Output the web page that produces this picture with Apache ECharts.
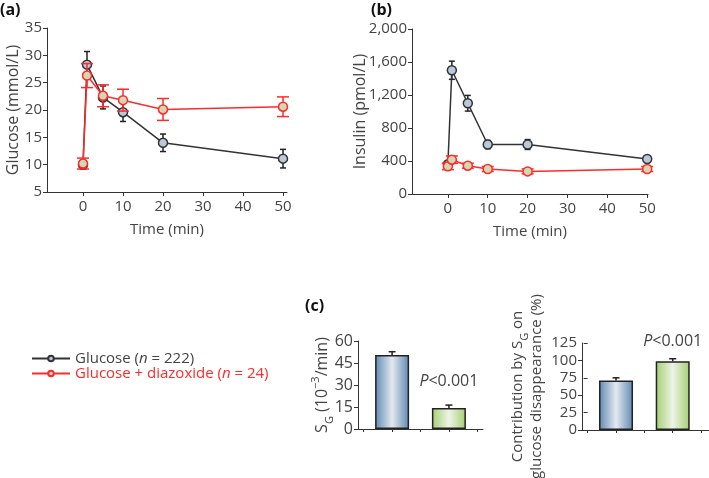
<!DOCTYPE html>
<html><head><meta charset="utf-8">
<script src="https://cdn.jsdelivr.net/npm/echarts@6/dist/echarts.min.js"></script>
<style>html,body{margin:0;padding:0;background:#fff}#c{width:709px;height:478px}</style>
</head><body><div id="c"></div>
<script>
// ---- data ----
const times = [0, 1, 5, 10, 20, 50];
const timeTicks = [0, 10, 20, 30, 40, 50];
const seriesNames = ['Glucose (n = 222)', 'Glucose + diazoxide (n = 24)'];
const glucoseCtrl = [10.0, 28.3, 22.3, 19.6, 14.0, 11.1];
const glucoseCtrlErr = [0.8, 2.4, 2.1, 1.7, 1.6, 1.7];
const glucoseDiaz = [10.2, 26.3, 22.6, 21.8, 20.1, 20.6];
const glucoseDiazErr = [1.0, 2.2, 2.0, 2.0, 2.0, 1.8];
const insulinCtrl = [360, 1500, 1100, 600, 600, 424];
const insulinCtrlErr = [30, 110, 95, 50, 60, 25];
const insulinDiaz = [335, 416, 343, 303, 274, 303];
const insulinDiazErr = [40, 45, 30, 30, 30, 30];
const barPositions = [1, 3];
const barTicks = [0, 1, 2, 3, 4];
const sgValues = [50.4, 14.4];
const sgErr = [2.3, 1.9];
const sgTicks = [0, 15, 30, 45, 60];
const contribValues = [71, 98.6];
const contribErr = [4, 3.8];
const contribTicks = [0, 25, 50, 75, 100, 125];

// ---- styles ----
const FONT = 'Open Sans';
const TXT = '#444';
const AX = '#333';
const RED = '#ff2a2a';
const barGrad = [
  {type:'linear',x:0,y:0,x2:1,y2:0,colorStops:[{offset:0,color:'#5f89b3'},{offset:0.5,color:'#e3e9ee'},{offset:1,color:'#5f89b3'}]},
  {type:'linear',x:0,y:0,x2:1,y2:0,colorStops:[{offset:0,color:'#a3cf72'},{offset:0.5,color:'#eef3e7'},{offset:1,color:'#a3cf72'}]}
];

const chart = echarts.init(document.getElementById('c'), null, {renderer:'canvas'});

function errRender(capW, color, upOnly) {
  return function (params, api) {
    const x = api.value(0), v = api.value(1), e = api.value(2);
    const lo = api.coord([x, upOnly ? v : v - e]);
    const hi = api.coord([x, v + e]);
    const st = {stroke: color, lineWidth: 1.5};
    const ch = [
      {type:'line', shape:{x1:lo[0],y1:lo[1],x2:hi[0],y2:hi[1]}, style:st},
      {type:'line', shape:{x1:hi[0]-capW/2,y1:hi[1],x2:hi[0]+capW/2,y2:hi[1]}, style:st}
    ];
    if (!upOnly) ch.push({type:'line', shape:{x1:lo[0]-capW/2,y1:lo[1],x2:lo[0]+capW/2,y2:lo[1]}, style:st});
    return {type:'group', children:ch};
  };
}
const zip3 = (xs, v, e) => xs.map((x, i) => [x, v[i], e[i]]);
const zip2 = (xs, v) => xs.map((x, i) => [x, v[i]]);

const axisLineC = {lineStyle:{color:AX, width:1}};
const tickC = {length:4, lineStyle:{color:AX, width:1}};
const lblC = {color:TXT, fontFamily:FONT, fontSize:15};

function timeAxis(gi, max) {
  return {type:'value', gridIndex:gi, min:-9, max:max,
    axisLine:{show:true, onZero:false, ...axisLineC},
    axisTick:{show:true, ...tickC, customValues:timeTicks},
    axisLabel:{...lblC, margin:7, customValues:timeTicks},
    splitLine:{show:false},
    name:'Time (min)', nameLocation:'middle', nameGap:30, nameMoveOverlap:false,
    nameTextStyle:{color:TXT, fontFamily:FONT, fontSize:15}};
}
function barXAxis(gi, max) {
  return {type:'value', gridIndex:gi, min:-0.2, max:max,
    axisLine:{show:true, onZero:false, ...axisLineC},
    axisTick:{show:true, length:3, lineStyle:{color:AX}, customValues:barTicks},
    axisLabel:{show:false}, splitLine:{show:false}};
}
function yAx(gi, min, max, interval, name, gap, fs, extra) {
  return Object.assign({type:'value', gridIndex:gi, position:'left', min, max, interval,
    axisLine:{show:true, onZero:false, ...axisLineC},
    axisTick:{show:true, ...tickC},
    axisLabel:{...lblC, fontSize:fs, margin:5, showMinLabel:true, showMaxLabel:true},
    splitLine:{show:false},
    name, nameLocation:'middle', nameRotate:90, nameGap:gap, nameMoveOverlap:false,
    nameTextStyle:{color:TXT, fontFamily:FONT, fontSize:16}}, extra || {});
}

function subRichOf(fs, lh) {
  return {
    n:{color:TXT, fontFamily:FONT, fontSize:fs, lineHeight:lh},
    s:{color:TXT, fontFamily:FONT, fontSize:11, lineHeight:lh, verticalAlign:'bottom', padding:[0,0,-3,0]},
    sp:{color:TXT, fontFamily:FONT, fontSize:11, lineHeight:lh, verticalAlign:'top', padding:[-2,0,0,0]}
  };
}

// contribution axis: labels alternate between two overlaid left axes so none is dropped
const contribEven = contribTicks.filter((t, i) => i % 2 === 0);
const contribOdd = contribTicks.filter((t, i) => i % 2 === 1);

const gridBase = {containLabel:false, outerBoundsMode:'none'};
const option = {
  animation:false,
  textStyle:{fontFamily:FONT},
  grid:[
    {...gridBase, left:47, top:28, width:240, height:164},
    {...gridBase, left:412, top:29, width:236, height:165},
    {...gridBase, left:358, top:341, width:125, height:88},
    {...gridBase, left:582, top:343, width:127, height:87}
  ],
  xAxis:[timeAxis(0, 51), timeAxis(1, 50.2), barXAxis(2, 4.2), barXAxis(3, 4.28)],
  yAxis:[
    yAx(0, 5, 35, 5, 'Glucose (mmol/L)', 26, 15),
    yAx(1, 0, 2000, 400, 'Insulin (pmol/L)', 44, 15, {
      axisLabel:{...lblC, margin:5, formatter:v => v.toLocaleString('en-US')}}),
    yAx(2, 0, 60, 15, '{n|S}{s|G}{n| (10}{sp|−3}{n|/min)}', 26, 16, {nameTextStyle:{rich:subRichOf(16, 20)}}),
    yAx(3, 0, 125, 25, '{n|Contribution by S}{s|G}{n| on}\n{n|glucose disappearance (%)}', 36, 15, {nameTextStyle:{rich:subRichOf(15, 19)}}),
    yAx(3, 0, 125, 25, '', 0, 15, {axisLine:{show:false}})
  ],
  legend:{
    orient:'vertical', left:26, top:346, itemWidth:38, itemHeight:7, itemGap:0,
    data:seriesNames.map(n => ({name:n})),
    formatter: n => n === seriesNames[0] ? '{g|Glucose (}{gi|n}{g| = 222)}' : '{r|Glucose + diazoxide (}{ri|n}{r| = 24)}',
    textStyle:{fontFamily:FONT, fontSize:15, rich:{
      g:{color:TXT, fontFamily:FONT, fontSize:15, lineHeight:18}, gi:{color:TXT, fontFamily:FONT, fontSize:15, lineHeight:18, fontStyle:'italic'},
      r:{color:RED, fontFamily:FONT, fontSize:15, lineHeight:18}, ri:{color:RED, fontFamily:FONT, fontSize:15, lineHeight:18, fontStyle:'italic'}}}
  },
  series:[
    // panel a
    {type:'custom', name:'errA0', xAxisIndex:0, yAxisIndex:0, z:1, renderItem:errRender(6, '#222'), data:zip3(times, glucoseCtrl, glucoseCtrlErr)},
    {type:'line', name:seriesNames[0], xAxisIndex:0, yAxisIndex:0, z:2, data:zip2(times, glucoseCtrl), symbol:'circle', symbolSize:9,
      lineStyle:{color:'#333', width:1.5}, itemStyle:{color:'#b9cadb', borderColor:'#333', borderWidth:1.5}},
    {type:'custom', name:'errA1', xAxisIndex:0, yAxisIndex:0, z:3, renderItem:errRender(12, RED), data:zip3(times, glucoseDiaz, glucoseDiazErr)},
    {type:'line', name:seriesNames[1], xAxisIndex:0, yAxisIndex:0, z:4, data:zip2(times, glucoseDiaz), symbol:'circle', symbolSize:9,
      lineStyle:{color:RED, width:1.5}, itemStyle:{color:'#d0d9b2', borderColor:RED, borderWidth:1.5}},
    // panel b
    {type:'custom', name:'errB0', xAxisIndex:1, yAxisIndex:1, z:1, renderItem:errRender(6, '#222'), data:zip3(times, insulinCtrl, insulinCtrlErr)},
    {type:'line', name:seriesNames[0], xAxisIndex:1, yAxisIndex:1, z:2, data:zip2(times, insulinCtrl), symbol:'circle', symbolSize:9,
      lineStyle:{color:'#333', width:1.5}, itemStyle:{color:'#b9cadb', borderColor:'#333', borderWidth:1.5}},
    {type:'custom', name:'errB1', xAxisIndex:1, yAxisIndex:1, z:3, renderItem:errRender(12, RED), data:zip3(times, insulinDiaz, insulinDiazErr)},
    {type:'line', name:seriesNames[1], xAxisIndex:1, yAxisIndex:1, z:4, data:zip2(times, insulinDiaz), symbol:'circle', symbolSize:9,
      lineStyle:{color:RED, width:1.5}, itemStyle:{color:'#d0d9b2', borderColor:RED, borderWidth:1.5}},
    // panel c
    {type:'bar', name:'sg', xAxisIndex:2, yAxisIndex:2, barWidth:34, z:2,
      data:zip2(barPositions, sgValues).map((d, i) => ({value:d, itemStyle:{color:barGrad[i], borderColor:'#222', borderWidth:1.5}}))},
    {type:'custom', name:'errC0', xAxisIndex:2, yAxisIndex:2, z:1, renderItem:errRender(7, '#222', true), data:zip3(barPositions, sgValues, sgErr)},
    {type:'bar', name:'contrib', xAxisIndex:3, yAxisIndex:3, barWidth:34, z:2,
      data:zip2(barPositions, contribValues).map((d, i) => ({value:d, itemStyle:{color:barGrad[i], borderColor:'#222', borderWidth:1.5}}))},
    {type:'custom', name:'errC1', xAxisIndex:3, yAxisIndex:3, z:1, renderItem:errRender(7, '#222', true), data:zip3(barPositions, contribValues, contribErr)}
  ]
};
option.yAxis[2].axisLabel.customValues = sgTicks;
option.yAxis[2].axisTick.customValues = sgTicks;
option.yAxis[3].axisLabel.customValues = contribEven;
option.yAxis[3].axisTick.customValues = contribEven;
option.yAxis[4].axisLabel.customValues = contribOdd;
option.yAxis[4].axisTick.customValues = contribOdd;
chart.setOption(option);

// P-value annotations anchored to data coordinates
function pLabel(gridIdx, xv, yv) {
  const p = chart.convertToPixel({gridIndex:gridIdx}, [xv, yv]);
  return {type:'text', x:p[0], y:p[1], style:{text:'{i|P}{t|<0.001}', align:'center', verticalAlign:'middle',
    rich:{i:{fontFamily:FONT, fontSize:16, fontStyle:'italic', fill:TXT}, t:{fontFamily:FONT, fontSize:16, fill:TXT}}}};
}
chart.setOption({graphic:[
  {type:'text', left:0, top:2, style:{text:'(a)', fontFamily:FONT, fontSize:16, fontWeight:'bold', fill:'#111'}},
  {type:'text', left:371, top:2, style:{text:'(b)', fontFamily:FONT, fontSize:16, fontWeight:'bold', fill:'#111'}},
  {type:'text', left:305, top:298, style:{text:'(c)', fontFamily:FONT, fontSize:16, fontWeight:'bold', fill:'#111'}},
  pLabel(2, 3.0, 32.5),
  pLabel(3, 3.0, 127)
]});
</script></body></html>
